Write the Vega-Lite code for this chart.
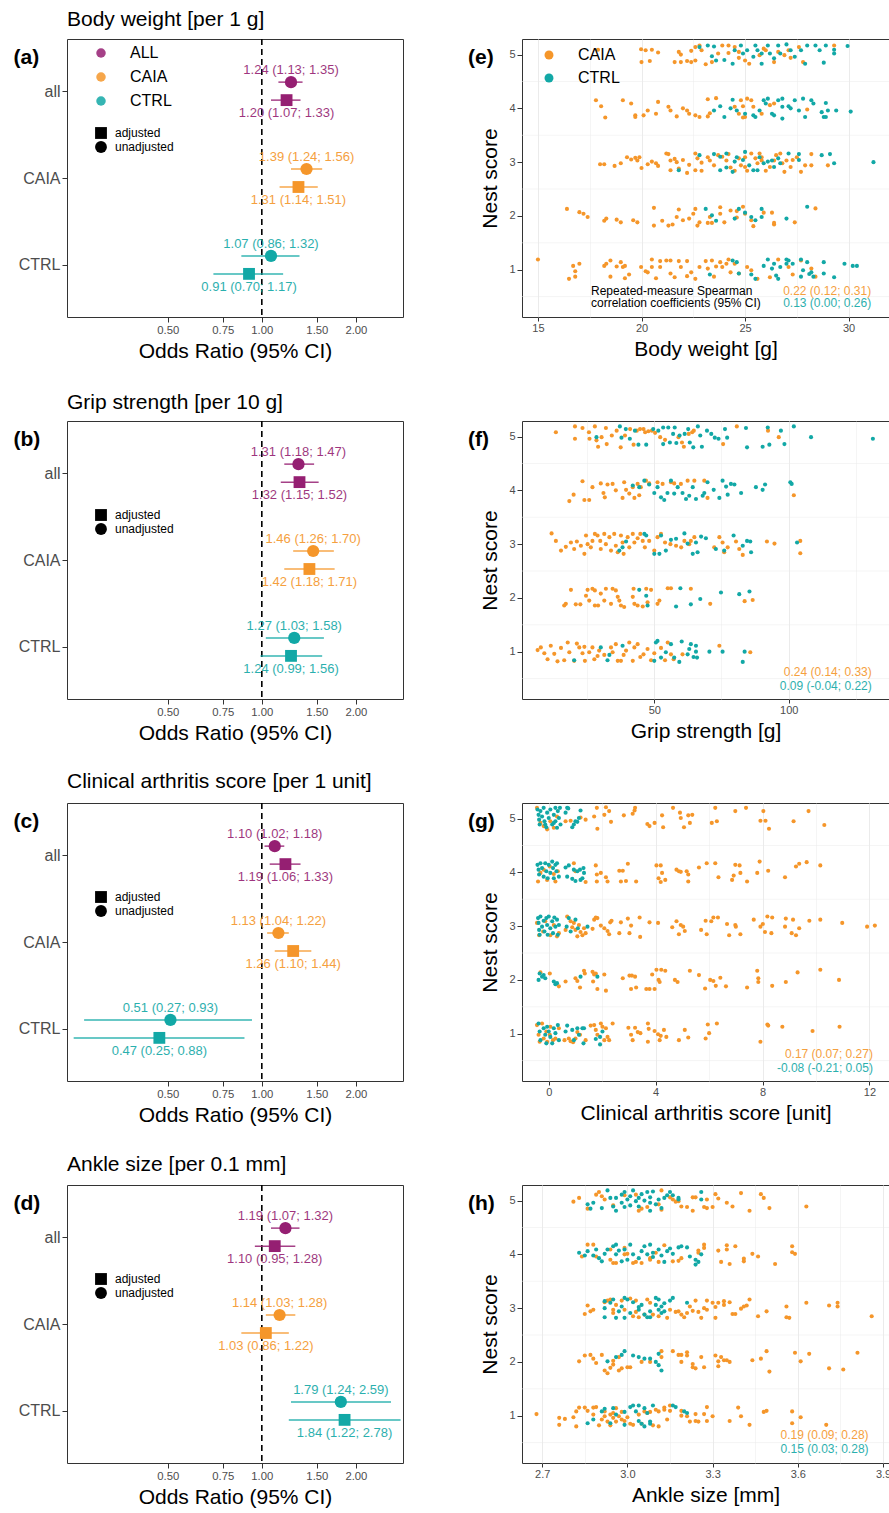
{
"$schema":"https://vega.github.io/schema/vega-lite/v6.json",
"padding":{"left":12,"top":8,"right":0,"bottom":0},
"config":{"font":"Liberation Sans","view":{"stroke":"#333333","strokeWidth":1},
"axis":{"domain":false,"gridColor":"#EBEBEB","gridWidth":1,"tickColor":"#333333","labelColor":"#4D4D4D","titleColor":"#000000","titleFontWeight":"normal","labelOverlap":false},
"legend":{"labelColor":"#000000"},"title":{"color":"#000000","fontWeight":"normal"}},
"datasets":{
"fa":[{"c":"ALL","t":"unadjusted","or":1.24,"lo":1.13,"hi":1.35,"lab":"1.24 (1.13; 1.35)"},{"c":"ALL","t":"adjusted","or":1.20,"lo":1.07,"hi":1.33,"lab":"1.20 (1.07; 1.33)"},{"c":"CAIA","t":"unadjusted","or":1.39,"lo":1.24,"hi":1.56,"lab":"1.39 (1.24; 1.56)"},{"c":"CAIA","t":"adjusted","or":1.31,"lo":1.14,"hi":1.51,"lab":"1.31 (1.14; 1.51)"},{"c":"CTRL","t":"unadjusted","or":1.07,"lo":0.86,"hi":1.32,"lab":"1.07 (0.86; 1.32)"},{"c":"CTRL","t":"adjusted","or":0.91,"lo":0.70,"hi":1.17,"lab":"0.91 (0.70; 1.17)"}],
"fb":[{"c":"ALL","t":"unadjusted","or":1.31,"lo":1.18,"hi":1.47,"lab":"1.31 (1.18; 1.47)"},{"c":"ALL","t":"adjusted","or":1.32,"lo":1.15,"hi":1.52,"lab":"1.32 (1.15; 1.52)"},{"c":"CAIA","t":"unadjusted","or":1.46,"lo":1.26,"hi":1.70,"lab":"1.46 (1.26; 1.70)"},{"c":"CAIA","t":"adjusted","or":1.42,"lo":1.18,"hi":1.71,"lab":"1.42 (1.18; 1.71)"},{"c":"CTRL","t":"unadjusted","or":1.27,"lo":1.03,"hi":1.58,"lab":"1.27 (1.03; 1.58)"},{"c":"CTRL","t":"adjusted","or":1.24,"lo":0.99,"hi":1.56,"lab":"1.24 (0.99; 1.56)"}],
"fc":[{"c":"ALL","t":"unadjusted","or":1.10,"lo":1.02,"hi":1.18,"lab":"1.10 (1.02; 1.18)"},{"c":"ALL","t":"adjusted","or":1.19,"lo":1.06,"hi":1.33,"lab":"1.19 (1.06; 1.33)"},{"c":"CAIA","t":"unadjusted","or":1.13,"lo":1.04,"hi":1.22,"lab":"1.13 (1.04; 1.22)"},{"c":"CAIA","t":"adjusted","or":1.26,"lo":1.10,"hi":1.44,"lab":"1.26 (1.10; 1.44)"},{"c":"CTRL","t":"unadjusted","or":0.51,"lo":0.27,"hi":0.93,"lab":"0.51 (0.27; 0.93)"},{"c":"CTRL","t":"adjusted","or":0.47,"lo":0.25,"hi":0.88,"lab":"0.47 (0.25; 0.88)"}],
"fd":[{"c":"ALL","t":"unadjusted","or":1.19,"lo":1.07,"hi":1.32,"lab":"1.19 (1.07; 1.32)"},{"c":"ALL","t":"adjusted","or":1.10,"lo":0.95,"hi":1.28,"lab":"1.10 (0.95; 1.28)"},{"c":"CAIA","t":"unadjusted","or":1.14,"lo":1.03,"hi":1.28,"lab":"1.14 (1.03; 1.28)"},{"c":"CAIA","t":"adjusted","or":1.03,"lo":0.86,"hi":1.22,"lab":"1.03 (0.86; 1.22)"},{"c":"CTRL","t":"unadjusted","or":1.79,"lo":1.24,"hi":2.59,"lab":"1.79 (1.24; 2.59)"},{"c":"CTRL","t":"adjusted","or":1.84,"lo":1.22,"hi":2.78,"lab":"1.84 (1.22; 2.78)"}],
"eC":[{"x":17.9,"y":5.09},{"x":19.98,"y":5.1},{"x":20.2,"y":5.08},{"x":20.5,"y":5.09},{"x":20.8,"y":5.04},{"x":20.0,"y":4.86},{"x":20.4,"y":4.88},{"x":21.8,"y":5.05},{"x":21.9,"y":5.0},{"x":22.4,"y":5.07},{"x":22.6,"y":5.14},{"x":22.8,"y":5.17},{"x":22.9,"y":5.08},{"x":21.6,"y":4.86},{"x":21.9,"y":4.86},{"x":22.2,"y":4.88},{"x":22.4,"y":4.86},{"x":22.6,"y":4.89},{"x":23.1,"y":4.82},{"x":23.4,"y":4.86},{"x":23.7,"y":5.02},{"x":23.9,"y":5.17},{"x":24.2,"y":5.17},{"x":24.2,"y":5.03},{"x":24.5,"y":5.14},{"x":24.7,"y":5.05},{"x":24.7,"y":4.94},{"x":25.0,"y":4.89},{"x":25.2,"y":4.83},{"x":25.7,"y":4.99},{"x":25.9,"y":5.11},{"x":26.0,"y":5.08},{"x":26.4,"y":4.86},{"x":26.6,"y":5.05},{"x":26.9,"y":4.99},{"x":27.1,"y":5.08},{"x":27.2,"y":4.94},{"x":27.6,"y":5.14},{"x":27.8,"y":4.86},{"x":29.3,"y":5.17},
{"x":17.8,"y":4.15},{"x":18.05,"y":4.04},{"x":18.25,"y":3.83},{"x":19.1,"y":4.15},{"x":19.5,"y":4.09},{"x":19.7,"y":3.87},{"x":19.7,"y":3.84},{"x":20.1,"y":3.87},{"x":20.3,"y":3.96},{"x":20.7,"y":3.9},{"x":20.8,"y":4.12},{"x":21.3,"y":4.03},{"x":21.4,"y":3.96},{"x":21.7,"y":3.85},{"x":22.0,"y":4.0},{"x":22.2,"y":3.96},{"x":22.3,"y":3.9},{"x":22.6,"y":3.87},{"x":22.8,"y":3.84},{"x":23.2,"y":3.85},{"x":23.2,"y":4.17},{"x":23.6,"y":4.19},{"x":23.3,"y":3.91},{"x":24.5,"y":4.03},{"x":24.7,"y":3.9},{"x":24.8,"y":4.15},{"x":24.9,"y":3.83},{"x":25.0,"y":3.84},{"x":25.1,"y":4.18},{"x":25.3,"y":4.15},{"x":25.4,"y":4.03},{"x":24.9,"y":4.04},{"x":25.8,"y":3.9},{"x":26.4,"y":4.09},{"x":28.0,"y":3.98},{"x":26.2,"y":4.06},
{"x":18.0,"y":2.96},{"x":18.2,"y":2.96},{"x":18.7,"y":2.93},{"x":19.0,"y":2.98},{"x":19.3,"y":3.09},{"x":19.5,"y":3.05},{"x":19.7,"y":3.08},{"x":19.9,"y":3.09},{"x":19.8,"y":3.03},{"x":20.0,"y":2.89},{"x":20.3,"y":2.96},{"x":20.5,"y":3.01},{"x":20.7,"y":2.98},{"x":20.8,"y":2.93},{"x":21.2,"y":3.16},{"x":21.3,"y":3.15},{"x":21.4,"y":3.03},{"x":21.6,"y":3.06},{"x":21.7,"y":3.0},{"x":21.8,"y":2.88},{"x":21.4,"y":2.85},{"x":22.0,"y":3.04},{"x":22.2,"y":2.8},{"x":22.3,"y":2.95},{"x":22.6,"y":3.16},{"x":22.7,"y":3.07},{"x":22.9,"y":2.99},{"x":22.6,"y":2.85},{"x":22.9,"y":2.84},{"x":23.2,"y":3.09},{"x":23.3,"y":3.03},{"x":23.5,"y":2.94},{"x":23.7,"y":3.13},{"x":23.9,"y":3.1},{"x":24.1,"y":3.03},{"x":24.2,"y":3.15},{"x":24.3,"y":2.9},{"x":24.5,"y":2.84},{"x":24.7,"y":3.07},{"x":24.8,"y":2.94},{"x":25.0,"y":2.91},{"x":25.0,"y":3.09},{"x":25.1,"y":2.84},{"x":25.3,"y":3.16},{"x":25.5,"y":3.07},{"x":25.6,"y":2.98},{"x":25.7,"y":3.16},{"x":25.8,"y":3.09},{"x":25.8,"y":3.03},{"x":26.0,"y":2.84},{"x":26.2,"y":2.91},{"x":26.4,"y":3.03},{"x":26.5,"y":3.13},{"x":26.7,"y":3.16},{"x":26.8,"y":2.98},{"x":26.9,"y":2.82},{"x":27.0,"y":3.03},{"x":27.2,"y":2.91},{"x":27.3,"y":3.04},{"x":27.5,"y":3.09},{"x":27.7,"y":2.82},{"x":27.9,"y":2.94},{"x":28.2,"y":2.94},{"x":28.2,"y":3.15},{"x":29.0,"y":2.94},
{"x":16.4,"y":2.13},{"x":17.0,"y":2.07},{"x":17.2,"y":2.04},{"x":17.4,"y":1.98},{"x":18.2,"y":1.91},{"x":18.3,"y":1.95},{"x":18.8,"y":1.93},{"x":19.0,"y":1.88},{"x":19.6,"y":1.92},{"x":19.8,"y":1.88},{"x":20.6,"y":2.15},{"x":20.6,"y":1.82},{"x":21.0,"y":1.91},{"x":21.3,"y":1.82},{"x":21.5,"y":1.84},{"x":21.7,"y":1.98},{"x":21.8,"y":2.12},{"x":22.0,"y":1.92},{"x":22.3,"y":1.95},{"x":22.5,"y":2.04},{"x":22.6,"y":2.13},{"x":22.7,"y":1.82},{"x":22.8,"y":1.88},{"x":23.2,"y":1.87},{"x":23.3,"y":1.98},{"x":23.4,"y":1.87},{"x":23.8,"y":2.16},{"x":23.8,"y":2.04},{"x":24.0,"y":1.88},{"x":24.3,"y":2.1},{"x":24.6,"y":1.97},{"x":24.6,"y":2.09},{"x":24.9,"y":2.17},{"x":25.0,"y":2.04},{"x":25.3,"y":1.92},{"x":25.4,"y":1.81},{"x":25.9,"y":2.06},{"x":26.3,"y":2.06},{"x":26.4,"y":1.84},{"x":26.4,"y":1.87},{"x":27.4,"y":1.88},{"x":28.4,"y":2.14},
{"x":15.0,"y":1.19},{"x":16.5,"y":0.83},{"x":16.7,"y":1.07},{"x":16.8,"y":0.87},{"x":16.8,"y":0.97},{"x":17.0,"y":1.11},{"x":18.2,"y":1.07},{"x":18.3,"y":1.11},{"x":18.5,"y":1.17},{"x":18.5,"y":0.87},{"x":18.8,"y":1.06},{"x":19.0,"y":1.14},{"x":19.1,"y":1.05},{"x":19.2,"y":0.84},{"x":19.4,"y":0.91},{"x":19.2,"y":1.07},{"x":19.98,"y":1.05},{"x":20.2,"y":0.97},{"x":20.3,"y":0.95},{"x":20.5,"y":1.19},{"x":20.5,"y":1.05},{"x":20.7,"y":0.84},{"x":20.9,"y":1.16},{"x":20.9,"y":1.05},{"x":21.2,"y":1.17},{"x":21.4,"y":0.93},{"x":21.4,"y":1.17},{"x":21.6,"y":0.86},{"x":21.8,"y":1.16},{"x":21.9,"y":1.05},{"x":22.2,"y":1.16},{"x":22.2,"y":0.88},{"x":22.4,"y":0.95},{"x":22.6,"y":0.83},{"x":22.8,"y":1.05},{"x":23.1,"y":1.16},{"x":23.2,"y":1.02},{"x":23.4,"y":1.17},{"x":23.5,"y":0.87},{"x":23.6,"y":1.06},{"x":23.8,"y":1.14},{"x":23.9,"y":1.05},{"x":24.1,"y":1.11},{"x":24.2,"y":1.19},{"x":24.3,"y":0.95},{"x":24.5,"y":1.11},{"x":24.7,"y":0.93},{"x":25.1,"y":1.05},{"x":25.3,"y":0.99},{"x":25.6,"y":0.83},{"x":26.2,"y":0.86},{"x":26.6,"y":1.19},{"x":27.1,"y":1.05},{"x":27.3,"y":0.91},{"x":27.7,"y":1.17},{"x":28.2,"y":1.02},{"x":28.4,"y":0.87}],
"eT":[{"x":22.8,"y":5.14},{"x":23.2,"y":5.17},{"x":23.5,"y":5.15},{"x":23.4,"y":4.97},{"x":23.6,"y":4.89},{"x":24.0,"y":4.9},{"x":24.4,"y":4.83},{"x":24.5,"y":5.08},{"x":24.8,"y":5.17},{"x":24.9,"y":5.02},{"x":25.1,"y":5.08},{"x":25.4,"y":4.96},{"x":25.5,"y":5.17},{"x":25.6,"y":5.08},{"x":25.8,"y":5.02},{"x":25.8,"y":4.83},{"x":26.1,"y":5.17},{"x":26.2,"y":5.02},{"x":26.4,"y":4.93},{"x":26.6,"y":5.17},{"x":26.7,"y":5.02},{"x":27.0,"y":5.19},{"x":27.2,"y":5.08},{"x":27.4,"y":4.96},{"x":27.7,"y":5.08},{"x":27.9,"y":4.83},{"x":28.0,"y":5.17},{"x":28.4,"y":5.17},{"x":28.6,"y":5.08},{"x":28.9,"y":5.17},{"x":28.8,"y":4.85},{"x":29.3,"y":5.09},{"x":29.3,"y":5.02},{"x":29.95,"y":5.16},
{"x":23.5,"y":3.96},{"x":23.8,"y":4.04},{"x":24.0,"y":3.84},{"x":24.4,"y":4.16},{"x":24.3,"y":4.0},{"x":24.6,"y":3.96},{"x":25.0,"y":3.9},{"x":25.4,"y":3.87},{"x":25.5,"y":3.84},{"x":25.7,"y":3.96},{"x":25.9,"y":4.15},{"x":26.1,"y":4.18},{"x":26.0,"y":4.09},{"x":26.3,"y":3.9},{"x":26.4,"y":3.87},{"x":26.6,"y":4.15},{"x":26.8,"y":4.18},{"x":26.8,"y":4.03},{"x":26.8,"y":3.81},{"x":27.1,"y":4.04},{"x":27.2,"y":4.0},{"x":27.4,"y":4.15},{"x":27.6,"y":3.96},{"x":27.8,"y":4.18},{"x":27.9,"y":3.84},{"x":28.2,"y":4.15},{"x":28.3,"y":4.09},{"x":28.7,"y":3.93},{"x":28.8,"y":3.84},{"x":28.9,"y":3.84},{"x":29.0,"y":3.96},{"x":28.9,"y":4.1},{"x":29.4,"y":3.96},{"x":30.1,"y":3.94},
{"x":21.8,"y":2.85},{"x":22.8,"y":3.13},{"x":23.5,"y":3.15},{"x":23.8,"y":2.85},{"x":23.8,"y":3.1},{"x":24.1,"y":3.16},{"x":24.1,"y":2.9},{"x":24.4,"y":2.82},{"x":24.5,"y":3.01},{"x":24.6,"y":3.09},{"x":24.9,"y":3.04},{"x":25.0,"y":3.19},{"x":25.2,"y":2.94},{"x":25.4,"y":2.85},{"x":25.6,"y":2.85},{"x":25.7,"y":3.09},{"x":25.9,"y":2.98},{"x":26.1,"y":3.01},{"x":26.3,"y":3.03},{"x":26.4,"y":2.91},{"x":26.6,"y":3.07},{"x":26.7,"y":2.98},{"x":27.1,"y":3.16},{"x":27.6,"y":3.15},{"x":27.6,"y":3.04},{"x":28.7,"y":3.13},{"x":29.1,"y":3.15},{"x":29.3,"y":2.98},{"x":31.2,"y":3.0},
{"x":23.1,"y":2.13},{"x":23.4,"y":2.01},{"x":23.6,"y":1.91},{"x":24.5,"y":1.95},{"x":24.7,"y":2.13},{"x":25.0,"y":2.06},{"x":25.3,"y":1.98},{"x":25.5,"y":1.92},{"x":25.8,"y":2.13},{"x":25.8,"y":1.98},{"x":27.0,"y":1.95},{"x":28.0,"y":2.17},
{"x":23.3,"y":0.91},{"x":24.4,"y":1.17},{"x":24.6,"y":1.14},{"x":24.7,"y":0.93},{"x":25.3,"y":0.91},{"x":25.5,"y":0.83},{"x":25.9,"y":1.07},{"x":26.1,"y":1.19},{"x":26.3,"y":1.02},{"x":26.4,"y":1.11},{"x":26.5,"y":0.89},{"x":26.6,"y":0.83},{"x":26.7,"y":1.05},{"x":27.0,"y":1.19},{"x":27.0,"y":1.11},{"x":27.1,"y":1.17},{"x":27.3,"y":1.11},{"x":27.7,"y":1.19},{"x":27.8,"y":0.99},{"x":28.0,"y":1.14},{"x":28.1,"y":0.92},{"x":28.2,"y":0.95},{"x":27.7,"y":0.87},{"x":28.3,"y":0.87},{"x":28.8,"y":1.14},{"x":28.8,"y":0.93},{"x":29.3,"y":0.86},{"x":29.8,"y":1.11},{"x":30.2,"y":1.07},{"x":30.4,"y":1.07}],
"gC":[{"x":13.4,"y":5.08},{"x":20.5,"y":5.19},{"x":20.5,"y":4.96},{"x":23.3,"y":5.16},{"x":25.7,"y":5.08},{"x":25.9,"y":4.96},{"x":27.9,"y":5.19},{"x":28.5,"y":4.93},{"x":29.1,"y":4.81},{"x":30.4,"y":4.99},{"x":32.0,"y":5.16},{"x":32.3,"y":4.86},{"x":34.2,"y":5.02},{"x":36.0,"y":5.11},{"x":37.5,"y":4.8},{"x":39.1,"y":5.02},{"x":41.0,"y":5.14},{"x":42.3,"y":4.85},{"x":43.5,"y":5.11},{"x":44.7,"y":5.14},{"x":46.0,"y":5.14},{"x":46.6,"y":5.08},{"x":47.8,"y":5.1},{"x":49.1,"y":5.11},{"x":50.3,"y":5.07},{"x":52.2,"y":4.99},{"x":54.0,"y":4.94},{"x":59.0,"y":4.99},{"x":60.3,"y":4.89},{"x":61.0,"y":4.81},{"x":62.8,"y":5.05},{"x":64.1,"y":5.08},{"x":64.7,"y":5.11},{"x":75.6,"y":4.86},{"x":80.7,"y":5.19},{"x":92.3,"y":5.11},{"x":96.3,"y":4.99},
{"x":18.4,"y":3.8},{"x":20.0,"y":3.92},{"x":23.3,"y":4.17},{"x":24.0,"y":3.82},{"x":25.8,"y":3.82},{"x":27.0,"y":4.06},{"x":30.1,"y":4.13},{"x":31.1,"y":3.95},{"x":31.6,"y":3.87},{"x":32.6,"y":4.11},{"x":34.5,"y":4.12},{"x":35.7,"y":4.0},{"x":38.2,"y":3.86},{"x":38.8,"y":4.15},{"x":39.5,"y":4.01},{"x":40.7,"y":3.94},{"x":42.0,"y":4.06},{"x":42.6,"y":3.86},{"x":43.8,"y":4.12},{"x":44.4,"y":3.91},{"x":45.0,"y":4.06},{"x":46.9,"y":4.18},{"x":48.1,"y":4.13},{"x":51.2,"y":4.15},{"x":53.1,"y":4.12},{"x":56.2,"y":4.15},{"x":57.4,"y":4.13},{"x":59.9,"y":4.12},{"x":62.4,"y":4.18},{"x":64.9,"y":4.18},{"x":68.6,"y":4.18},{"x":69.8,"y":3.86},{"x":101.9,"y":3.91},
{"x":11.8,"y":3.2},{"x":13.4,"y":3.06},{"x":15.3,"y":2.88},{"x":17.1,"y":2.95},{"x":19.0,"y":3.03},{"x":20.2,"y":2.91},{"x":21.2,"y":3.05},{"x":22.7,"y":2.97},{"x":24.0,"y":2.82},{"x":24.6,"y":3.16},{"x":25.2,"y":3.0},{"x":26.4,"y":2.94},{"x":27.0,"y":3.06},{"x":27.9,"y":3.19},{"x":28.9,"y":3.16},{"x":29.9,"y":3.06},{"x":30.1,"y":2.91},{"x":31.4,"y":3.19},{"x":32.0,"y":3.0},{"x":33.3,"y":3.13},{"x":33.9,"y":2.88},{"x":35.1,"y":3.19},{"x":35.7,"y":2.97},{"x":36.4,"y":2.85},{"x":37.6,"y":3.16},{"x":38.2,"y":3.03},{"x":38.6,"y":2.82},{"x":40.1,"y":3.13},{"x":40.7,"y":2.94},{"x":42.0,"y":3.19},{"x":42.6,"y":3.03},{"x":43.8,"y":3.11},{"x":44.8,"y":3.19},{"x":45.7,"y":3.06},{"x":46.5,"y":2.94},{"x":48.1,"y":3.06},{"x":50.0,"y":2.88},{"x":51.2,"y":3.13},{"x":52.5,"y":3.19},{"x":54.0,"y":3.03},{"x":56.0,"y":3.0},{"x":58.1,"y":2.97},{"x":60.0,"y":2.94},{"x":61.2,"y":3.06},{"x":63.0,"y":3.0},{"x":63.6,"y":3.06},{"x":64.9,"y":3.13},{"x":72.3,"y":2.94},{"x":74.2,"y":3.13},{"x":75.4,"y":3.03},{"x":76.0,"y":2.85},{"x":77.3,"y":2.94},{"x":80.4,"y":3.05},{"x":81.6,"y":2.91},{"x":82.9,"y":2.8},{"x":91.9,"y":3.05},{"x":94.7,"y":3.01},{"x":104.3,"y":3.06},{"x":104.3,"y":2.83},
{"x":16.5,"y":1.86},{"x":17.1,"y":1.89},{"x":19.0,"y":2.15},{"x":20.8,"y":1.88},{"x":22.5,"y":1.88},{"x":24.6,"y":2.04},{"x":25.2,"y":2.15},{"x":25.8,"y":1.95},{"x":27.0,"y":2.17},{"x":27.9,"y":2.14},{"x":27.9,"y":1.86},{"x":29.1,"y":1.86},{"x":30.1,"y":2.08},{"x":31.4,"y":1.95},{"x":32.0,"y":2.17},{"x":33.9,"y":1.89},{"x":34.5,"y":2.17},{"x":35.7,"y":2.14},{"x":36.4,"y":2.02},{"x":37.0,"y":1.95},{"x":37.6,"y":1.86},{"x":38.8,"y":1.83},{"x":42.0,"y":2.02},{"x":42.3,"y":2.17},{"x":42.6,"y":1.89},{"x":43.8,"y":1.86},{"x":45.7,"y":1.84},{"x":47.0,"y":2.17},{"x":47.5,"y":1.92},{"x":48.8,"y":2.15},{"x":51.2,"y":1.89},{"x":51.9,"y":1.95},{"x":55.0,"y":2.18},{"x":56.2,"y":2.18},{"x":63.6,"y":2.17},{"x":70.8,"y":1.89},{"x":83.6,"y":1.94},{"x":86.6,"y":1.96},
{"x":6.6,"y":1.03},{"x":7.8,"y":1.08},{"x":9.1,"y":0.97},{"x":10.3,"y":0.86},{"x":11.5,"y":1.11},{"x":12.8,"y":0.96},{"x":14.0,"y":0.82},{"x":15.3,"y":1.07},{"x":16.5,"y":0.84},{"x":17.8,"y":1.17},{"x":18.4,"y":0.99},{"x":20.2,"y":0.83},{"x":21.2,"y":1.15},{"x":22.1,"y":1.08},{"x":23.3,"y":0.97},{"x":24.0,"y":1.09},{"x":24.2,"y":0.83},{"x":25.8,"y":0.99},{"x":27.0,"y":1.08},{"x":27.7,"y":0.86},{"x":28.9,"y":0.92},{"x":29.5,"y":1.02},{"x":31.4,"y":0.94},{"x":33.9,"y":1.08},{"x":34.5,"y":0.99},{"x":35.7,"y":1.14},{"x":36.4,"y":0.83},{"x":37.6,"y":0.83},{"x":38.6,"y":0.94},{"x":39.5,"y":1.02},{"x":40.7,"y":1.17},{"x":42.0,"y":0.83},{"x":42.6,"y":1.08},{"x":43.8,"y":1.14},{"x":44.8,"y":0.9},{"x":46.0,"y":0.95},{"x":47.5,"y":1.05},{"x":48.8,"y":0.84},{"x":50.0,"y":0.97},{"x":52.5,"y":1.07},{"x":54.0,"y":0.84},{"x":55.0,"y":1.17},{"x":56.2,"y":0.95},{"x":57.2,"y":0.86},{"x":60.5,"y":0.95},{"x":74.2,"y":1.11},{"x":85.7,"y":0.99}],
"gT":[{"x":28.5,"y":4.99},{"x":37.2,"y":5.19},{"x":37.8,"y":4.98},{"x":39.4,"y":5.14},{"x":40.9,"y":4.96},{"x":42.8,"y":5.11},{"x":44.1,"y":4.85},{"x":47.0,"y":4.85},{"x":49.6,"y":5.14},{"x":51.5,"y":5.11},{"x":53.3,"y":5.17},{"x":55.2,"y":5.17},{"x":53.3,"y":4.86},{"x":55.8,"y":4.89},{"x":57.0,"y":5.05},{"x":57.6,"y":5.17},{"x":58.2,"y":4.88},{"x":59.4,"y":5.02},{"x":61.3,"y":5.05},{"x":62.6,"y":5.14},{"x":63.2,"y":4.89},{"x":64.5,"y":4.8},{"x":66.2,"y":5.19},{"x":67.1,"y":5.02},{"x":67.7,"y":4.81},{"x":69.6,"y":5.11},{"x":71.2,"y":5.05},{"x":72.5,"y":4.98},{"x":73.9,"y":4.96},{"x":77.1,"y":4.98},{"x":76.3,"y":5.14},{"x":84.1,"y":5.16},{"x":84.5,"y":4.8},{"x":90.3,"y":4.81},{"x":92.8,"y":4.85},{"x":92.2,"y":5.17},{"x":97.1,"y":5.11},{"x":98.4,"y":4.86},{"x":101.9,"y":5.19},{"x":108.3,"y":4.99},{"x":131.3,"y":4.96},
{"x":42.0,"y":4.09},{"x":44.4,"y":4.06},{"x":46.3,"y":4.18},{"x":48.1,"y":4.11},{"x":50.0,"y":3.95},{"x":51.2,"y":4.06},{"x":52.5,"y":3.87},{"x":53.7,"y":3.82},{"x":54.9,"y":3.95},{"x":56.2,"y":4.18},{"x":57.4,"y":3.94},{"x":58.7,"y":4.06},{"x":60.5,"y":3.95},{"x":61.8,"y":3.84},{"x":63.0,"y":3.9},{"x":64.3,"y":4.06},{"x":65.5,"y":3.84},{"x":68.0,"y":3.9},{"x":68.6,"y":3.95},{"x":69.8,"y":4.15},{"x":72.1,"y":4.01},{"x":74.2,"y":3.86},{"x":75.4,"y":4.18},{"x":76.7,"y":4.07},{"x":77.3,"y":3.92},{"x":78.5,"y":4.12},{"x":79.8,"y":4.11},{"x":82.3,"y":3.95},{"x":87.8,"y":4.06},{"x":90.3,"y":4.01},{"x":91.2,"y":4.11},{"x":100.6,"y":4.15},{"x":101.1,"y":4.12},
{"x":37.0,"y":2.88},{"x":38.2,"y":2.94},{"x":39.5,"y":3.05},{"x":46.3,"y":3.19},{"x":47.0,"y":3.16},{"x":50.0,"y":2.82},{"x":51.9,"y":2.82},{"x":52.5,"y":3.16},{"x":54.3,"y":2.88},{"x":56.2,"y":3.08},{"x":58.1,"y":3.1},{"x":61.2,"y":3.2},{"x":62.4,"y":3.01},{"x":64.3,"y":2.82},{"x":65.5,"y":3.03},{"x":66.1,"y":2.85},{"x":67.4,"y":3.14},{"x":69.2,"y":3.11},{"x":72.9,"y":2.91},{"x":76.0,"y":2.88},{"x":79.5,"y":3.16},{"x":82.9,"y":2.97},{"x":84.5,"y":3.06},{"x":85.7,"y":3.05},{"x":86.0,"y":2.85},{"x":103.1,"y":3.03},
{"x":44.4,"y":2.15},{"x":47.0,"y":2.04},{"x":47.5,"y":1.86},{"x":59.7,"y":2.18},{"x":58.1,"y":1.84},{"x":63.6,"y":1.88},{"x":67.1,"y":1.98},{"x":74.8,"y":2.1},{"x":81.6,"y":2.07},{"x":85.4,"y":2.12},
{"x":20.2,"y":0.84},{"x":30.1,"y":1.08},{"x":32.6,"y":0.84},{"x":33.3,"y":0.94},{"x":38.2,"y":1.11},{"x":50.6,"y":1.17},{"x":51.2,"y":1.2},{"x":50.0,"y":0.83},{"x":52.5,"y":0.89},{"x":54.3,"y":0.99},{"x":56.2,"y":1.14},{"x":57.4,"y":0.89},{"x":59.3,"y":0.81},{"x":60.2,"y":1.19},{"x":62.4,"y":0.95},{"x":63.0,"y":1.05},{"x":63.6,"y":1.14},{"x":64.6,"y":0.9},{"x":65.5,"y":1.11},{"x":65.5,"y":1.0},{"x":65.9,"y":0.89},{"x":70.5,"y":1.0},{"x":75.4,"y":1.0},{"x":82.9,"y":0.81},{"x":83.6,"y":1.0}],
"cC":[{"x":-0.44,"y":5.2},{"x":-0.31,"y":4.92},{"x":-0.19,"y":4.86},{"x":-0.06,"y":4.8},{"x":0.06,"y":4.95},{"x":0.19,"y":4.83},{"x":0.31,"y":5.04},{"x":0.63,"y":4.95},{"x":0.82,"y":4.96},{"x":1.19,"y":5.02},{"x":1.38,"y":4.98},{"x":1.7,"y":5.04},{"x":1.8,"y":5.2},{"x":1.82,"y":4.81},{"x":2.08,"y":5.07},{"x":2.14,"y":5.21},{"x":2.26,"y":5.14},{"x":2.33,"y":4.94},{"x":2.81,"y":5.06},{"x":3.14,"y":5.09},{"x":3.23,"y":5.2},{"x":3.21,"y":5.15},{"x":3.69,"y":4.9},{"x":3.77,"y":4.86},{"x":3.96,"y":4.92},{"x":4.24,"y":5.06},{"x":4.28,"y":4.84},{"x":4.65,"y":5.2},{"x":4.91,"y":5.11},{"x":4.94,"y":5.01},{"x":5.06,"y":4.84},{"x":5.22,"y":5.06},{"x":5.28,"y":4.92},{"x":5.37,"y":5.07},{"x":6.23,"y":5.2},{"x":6.1,"y":4.92},{"x":6.29,"y":4.95},{"x":6.98,"y":5.14},{"x":7.38,"y":5.2},{"x":8.03,"y":5.14},{"x":7.92,"y":4.96},{"x":8.11,"y":4.96},{"x":8.24,"y":4.81},{"x":9.16,"y":4.95},{"x":9.72,"y":5.14},{"x":10.31,"y":4.88},
{"x":-0.4,"y":3.83},{"x":-0.31,"y":3.99},{"x":-0.19,"y":4.05},{"x":-0.06,"y":3.86},{"x":0.04,"y":4.11},{"x":0.19,"y":3.97},{"x":0.25,"y":3.83},{"x":0.34,"y":4.02},{"x":0.94,"y":4.17},{"x":1.0,"y":4.02},{"x":1.38,"y":3.82},{"x":1.76,"y":4.13},{"x":1.8,"y":3.96},{"x":1.8,"y":3.83},{"x":1.95,"y":3.99},{"x":2.14,"y":3.91},{"x":2.2,"y":3.83},{"x":2.64,"y":4.03},{"x":2.77,"y":4.03},{"x":2.7,"y":3.83},{"x":2.89,"y":3.84},{"x":2.96,"y":4.16},{"x":3.27,"y":3.83},{"x":4.03,"y":4.13},{"x":4.19,"y":4.13},{"x":4.24,"y":3.99},{"x":4.11,"y":3.89},{"x":4.19,"y":3.82},{"x":4.36,"y":3.86},{"x":4.78,"y":4.05},{"x":4.87,"y":4.02},{"x":4.94,"y":4.01},{"x":5.16,"y":4.02},{"x":5.22,"y":3.96},{"x":5.22,"y":3.83},{"x":5.62,"y":4.09},{"x":5.91,"y":4.17},{"x":6.23,"y":4.17},{"x":6.35,"y":3.91},{"x":6.86,"y":3.86},{"x":6.92,"y":3.94},{"x":6.98,"y":4.14},{"x":7.17,"y":3.99},{"x":7.14,"y":4.13},{"x":7.42,"y":3.83},{"x":7.8,"y":3.99},{"x":7.89,"y":4.2},{"x":8.21,"y":4.03},{"x":8.84,"y":3.91},{"x":9.25,"y":4.11},{"x":9.37,"y":4.16},{"x":9.65,"y":4.19},{"x":10.16,"y":4.13},
{"x":-0.44,"y":3.06},{"x":-0.36,"y":2.83},{"x":-0.21,"y":2.9},{"x":-0.13,"y":3.09},{"x":0.06,"y":2.83},{"x":0.19,"y":3.02},{"x":0.31,"y":2.81},{"x":0.38,"y":2.87},{"x":0.63,"y":2.93},{"x":0.69,"y":3.18},{"x":0.82,"y":3.09},{"x":0.88,"y":2.98},{"x":0.94,"y":3.06},{"x":1.0,"y":2.93},{"x":1.07,"y":2.81},{"x":1.13,"y":3.02},{"x":1.19,"y":2.89},{"x":1.26,"y":2.83},{"x":1.32,"y":2.96},{"x":1.38,"y":2.87},{"x":1.64,"y":2.95},{"x":1.7,"y":3.12},{"x":1.76,"y":3.16},{"x":1.82,"y":3.15},{"x":1.95,"y":3.01},{"x":2.08,"y":2.96},{"x":2.2,"y":2.91},{"x":2.26,"y":2.85},{"x":2.3,"y":3.07},{"x":2.35,"y":3.1},{"x":2.64,"y":2.87},{"x":2.7,"y":3.07},{"x":2.96,"y":3.14},{"x":3.02,"y":2.87},{"x":3.08,"y":3.01},{"x":3.4,"y":3.16},{"x":3.42,"y":2.8},{"x":3.77,"y":3.07},{"x":4.09,"y":3.06},{"x":4.62,"y":2.98},{"x":4.78,"y":3.09},{"x":4.87,"y":2.85},{"x":4.94,"y":3.02},{"x":5.03,"y":2.99},{"x":5.09,"y":2.91},{"x":5.7,"y":2.93},{"x":5.87,"y":3.1},{"x":5.91,"y":2.85},{"x":6.08,"y":3.09},{"x":6.16,"y":3.16},{"x":6.33,"y":3.16},{"x":6.67,"y":3.04},{"x":6.75,"y":2.83},{"x":6.98,"y":3.02},{"x":7.0,"y":2.99},{"x":7.17,"y":2.85},{"x":7.67,"y":3.12},{"x":7.92,"y":2.99},{"x":8.01,"y":3.04},{"x":8.09,"y":2.89},{"x":8.18,"y":3.18},{"x":8.36,"y":3.16},{"x":8.33,"y":2.87},{"x":8.84,"y":2.99},{"x":8.87,"y":3.14},{"x":9.09,"y":2.87},{"x":9.14,"y":3.12},{"x":9.25,"y":2.83},{"x":9.37,"y":2.96},{"x":9.75,"y":3.1},{"x":10.16,"y":3.12},{"x":10.98,"y":3.06},{"x":11.91,"y":2.99},{"x":12.2,"y":3.01},
{"x":-0.31,"y":2.14},{"x":0.04,"y":2.12},{"x":0.38,"y":1.88},{"x":0.63,"y":1.97},{"x":1.0,"y":2.03},{"x":1.07,"y":1.98},{"x":1.17,"y":1.86},{"x":1.32,"y":2.17},{"x":1.35,"y":2.12},{"x":1.64,"y":2.15},{"x":1.7,"y":2.1},{"x":1.76,"y":2.12},{"x":1.82,"y":1.83},{"x":1.66,"y":1.97},{"x":2.08,"y":2.1},{"x":2.14,"y":1.8},{"x":2.77,"y":2.03},{"x":3.02,"y":2.08},{"x":3.11,"y":2.08},{"x":3.23,"y":2.06},{"x":3.08,"y":1.83},{"x":3.27,"y":1.86},{"x":3.65,"y":1.83},{"x":3.77,"y":1.83},{"x":3.96,"y":1.83},{"x":3.87,"y":2.1},{"x":4.03,"y":2.19},{"x":4.21,"y":2.19},{"x":4.36,"y":2.17},{"x":4.11,"y":2.0},{"x":4.15,"y":1.96},{"x":4.72,"y":2.0},{"x":4.82,"y":1.96},{"x":5.28,"y":2.17},{"x":5.62,"y":2.09},{"x":5.85,"y":1.84},{"x":6.04,"y":2.0},{"x":6.16,"y":1.98},{"x":6.25,"y":1.89},{"x":6.42,"y":2.04},{"x":6.63,"y":1.88},{"x":7.42,"y":1.86},{"x":7.8,"y":2.17},{"x":7.84,"y":2.03},{"x":7.84,"y":1.96},{"x":8.36,"y":1.89},{"x":8.87,"y":1.96},{"x":9.31,"y":2.14},{"x":10.16,"y":2.19},{"x":10.86,"y":2.0},
{"x":-0.44,"y":1.16},{"x":-0.38,"y":0.98},{"x":-0.34,"y":0.85},{"x":-0.25,"y":1.19},{"x":-0.19,"y":0.91},{"x":-0.09,"y":1.04},{"x":-0.06,"y":0.85},{"x":0.04,"y":0.98},{"x":0.06,"y":1.13},{"x":0.16,"y":0.88},{"x":0.25,"y":0.91},{"x":0.38,"y":1.1},{"x":0.59,"y":0.88},{"x":0.75,"y":0.91},{"x":0.82,"y":0.86},{"x":0.91,"y":0.84},{"x":1.0,"y":0.91},{"x":1.07,"y":1.03},{"x":1.17,"y":0.98},{"x":1.38,"y":0.88},{"x":1.57,"y":1.15},{"x":1.7,"y":1.16},{"x":1.76,"y":1.07},{"x":1.82,"y":0.98},{"x":1.95,"y":1.19},{"x":2.01,"y":1.13},{"x":2.08,"y":0.88},{"x":2.14,"y":1.1},{"x":2.2,"y":0.94},{"x":2.26,"y":0.88},{"x":2.39,"y":1.19},{"x":2.98,"y":1.11},{"x":3.08,"y":0.98},{"x":3.14,"y":0.88},{"x":3.23,"y":1.11},{"x":3.33,"y":1.03},{"x":3.43,"y":1.01},{"x":3.71,"y":1.19},{"x":3.74,"y":1.09},{"x":3.71,"y":0.85},{"x":3.96,"y":1.05},{"x":4.09,"y":0.99},{"x":4.15,"y":0.88},{"x":4.19,"y":0.96},{"x":4.31,"y":1.07},{"x":4.4,"y":0.94},{"x":4.87,"y":0.88},{"x":5.09,"y":1.07},{"x":5.22,"y":0.93},{"x":5.87,"y":0.91},{"x":5.95,"y":1.17},{"x":6.0,"y":1.01},{"x":6.29,"y":1.19},{"x":8.18,"y":1.17},{"x":8.21,"y":1.15},{"x":7.92,"y":0.85},{"x":8.74,"y":1.13},{"x":9.87,"y":1.05},{"x":10.88,"y":1.13}],
"cT":[{"x":-0.42,"y":5.17},{"x":-0.38,"y":5.07},{"x":-0.36,"y":4.98},{"x":-0.34,"y":4.89},{"x":-0.31,"y":5.14},{"x":-0.25,"y":5.04},{"x":-0.19,"y":5.2},{"x":-0.16,"y":4.95},{"x":-0.09,"y":4.84},{"x":-0.06,"y":5.11},{"x":0.0,"y":5.01},{"x":0.06,"y":5.17},{"x":0.13,"y":4.89},{"x":0.19,"y":5.07},{"x":0.25,"y":5.2},{"x":0.25,"y":4.95},{"x":0.31,"y":4.83},{"x":0.34,"y":5.14},{"x":0.38,"y":5.01},{"x":0.44,"y":4.89},{"x":0.42,"y":5.2},{"x":0.63,"y":5.11},{"x":0.69,"y":5.2},{"x":0.73,"y":5.19},{"x":0.88,"y":4.84},{"x":0.94,"y":4.89},{"x":1.0,"y":4.95},{"x":1.07,"y":4.94},{"x":1.19,"y":5.15},{"x":1.13,"y":5.01},{"x":0.19,"y":4.92},{"x":-0.13,"y":4.89},
{"x":-0.42,"y":4.14},{"x":-0.38,"y":4.05},{"x":-0.36,"y":3.96},{"x":-0.31,"y":4.17},{"x":-0.25,"y":4.08},{"x":-0.19,"y":3.92},{"x":-0.13,"y":4.17},{"x":-0.09,"y":4.02},{"x":-0.04,"y":3.89},{"x":0.0,"y":4.14},{"x":0.06,"y":3.99},{"x":0.13,"y":4.2},{"x":0.16,"y":4.08},{"x":0.19,"y":3.89},{"x":0.25,"y":4.14},{"x":0.29,"y":4.02},{"x":0.31,"y":4.17},{"x":0.38,"y":3.92},{"x":0.63,"y":4.09},{"x":0.69,"y":3.92},{"x":0.75,"y":4.13},{"x":0.88,"y":3.88},{"x":0.94,"y":4.05},{"x":1.0,"y":3.84},{"x":1.07,"y":4.02},{"x":1.17,"y":4.05},{"x":1.19,"y":3.86},{"x":1.3,"y":4.08},{"x":1.32,"y":3.99},{"x":1.26,"y":3.89},
{"x":-0.4,"y":3.15},{"x":-0.38,"y":3.06},{"x":-0.36,"y":2.93},{"x":-0.34,"y":2.84},{"x":-0.31,"y":3.18},{"x":-0.25,"y":2.99},{"x":-0.19,"y":3.1},{"x":-0.16,"y":2.9},{"x":-0.09,"y":3.15},{"x":-0.06,"y":3.02},{"x":-0.04,"y":2.84},{"x":0.0,"y":3.18},{"x":0.06,"y":2.96},{"x":0.13,"y":3.09},{"x":0.16,"y":2.87},{"x":0.21,"y":3.16},{"x":0.25,"y":2.99},{"x":0.31,"y":3.12},{"x":0.34,"y":2.84},{"x":0.38,"y":3.02},{"x":0.67,"y":2.99},{"x":0.75,"y":3.15},{"x":0.82,"y":2.9},{"x":1.0,"y":3.12},{"x":1.09,"y":2.96},{"x":1.45,"y":2.99},
{"x":-0.38,"y":2.0},{"x":-0.34,"y":2.12},{"x":-0.25,"y":2.06},{"x":-0.19,"y":2.09},{"x":-0.13,"y":2.03},{"x":0.19,"y":1.97},{"x":0.25,"y":1.92},{"x":0.31,"y":1.94},{"x":1.19,"y":2.06},{"x":1.82,"y":2.06},
{"x":-0.38,"y":1.19},{"x":-0.34,"y":1.04},{"x":-0.31,"y":0.88},{"x":-0.19,"y":1.1},{"x":-0.13,"y":0.98},{"x":-0.09,"y":0.82},{"x":-0.06,"y":1.13},{"x":0.0,"y":1.04},{"x":0.06,"y":0.94},{"x":0.13,"y":0.82},{"x":0.19,"y":1.1},{"x":0.25,"y":1.01},{"x":0.34,"y":1.16},{"x":0.38,"y":0.88},{"x":0.63,"y":1.04},{"x":0.69,"y":1.15},{"x":0.88,"y":1.07},{"x":0.94,"y":0.88},{"x":1.07,"y":1.1},{"x":1.13,"y":0.98},{"x":1.26,"y":1.1},{"x":1.32,"y":1.1},{"x":1.3,"y":0.82},{"x":1.76,"y":0.9},{"x":1.92,"y":0.94},{"x":1.92,"y":0.8},{"x":2.01,"y":1.04}],
"hC":[{"x":2.81,"y":4.98},{"x":2.83,"y":5.05},{"x":2.86,"y":4.85},{"x":2.89,"y":5.11},{"x":2.9,"y":5.16},{"x":2.91,"y":5.08},{"x":2.92,"y":5.02},{"x":2.95,"y":4.91},{"x":2.99,"y":5.1},{"x":3.03,"y":5.11},{"x":3.04,"y":4.81},{"x":3.05,"y":4.85},{"x":3.07,"y":4.88},{"x":3.11,"y":4.93},{"x":3.12,"y":4.83},{"x":3.12,"y":5.19},{"x":3.15,"y":5.06},{"x":3.16,"y":5.02},{"x":3.17,"y":4.98},{"x":3.18,"y":4.99},{"x":3.19,"y":4.89},{"x":3.21,"y":4.88},{"x":3.23,"y":4.81},{"x":3.23,"y":5.06},{"x":3.24,"y":5.06},{"x":3.27,"y":4.88},{"x":3.28,"y":4.86},{"x":3.28,"y":5.02},{"x":3.3,"y":4.88},{"x":3.31,"y":5.12},{"x":3.32,"y":5.04},{"x":3.35,"y":4.96},{"x":3.37,"y":4.89},{"x":3.4,"y":5.14},{"x":3.43,"y":4.81},{"x":3.47,"y":5.12},{"x":3.48,"y":5.05},{"x":3.5,"y":4.86},{"x":3.63,"y":4.89},
{"x":2.84,"y":3.96},{"x":2.86,"y":4.18},{"x":2.88,"y":4.18},{"x":2.89,"y":3.96},{"x":2.94,"y":4.09},{"x":2.94,"y":3.9},{"x":2.95,"y":3.84},{"x":2.96,"y":3.84},{"x":2.99,"y":4.0},{"x":2.99,"y":4.12},{"x":3.0,"y":4.01},{"x":3.02,"y":3.84},{"x":3.03,"y":3.86},{"x":3.05,"y":3.84},{"x":3.08,"y":3.93},{"x":3.08,"y":3.9},{"x":3.1,"y":4.03},{"x":3.11,"y":3.86},{"x":3.13,"y":4.17},{"x":3.16,"y":3.87},{"x":3.18,"y":3.88},{"x":3.19,"y":3.93},{"x":3.25,"y":4.03},{"x":3.25,"y":4.07},{"x":3.27,"y":4.12},{"x":3.27,"y":4.18},{"x":3.32,"y":4.07},{"x":3.33,"y":3.86},{"x":3.35,"y":4.17},{"x":3.35,"y":4.09},{"x":3.36,"y":3.82},{"x":3.38,"y":4.15},{"x":3.41,"y":3.92},{"x":3.41,"y":3.87},{"x":3.44,"y":4.01},{"x":3.46,"y":3.96},{"x":3.52,"y":3.82},{"x":3.58,"y":4.15},{"x":3.58,"y":4.04},{"x":3.59,"y":4.01},
{"x":2.85,"y":2.89},{"x":2.86,"y":3.05},{"x":2.87,"y":2.94},{"x":2.88,"y":2.97},{"x":2.92,"y":3.11},{"x":2.93,"y":3.14},{"x":2.94,"y":3.16},{"x":2.95,"y":2.97},{"x":2.95,"y":2.91},{"x":2.96,"y":3.06},{"x":2.98,"y":3.14},{"x":2.99,"y":2.97},{"x":3.01,"y":3.18},{"x":3.02,"y":2.85},{"x":3.03,"y":2.93},{"x":3.03,"y":3.14},{"x":3.04,"y":2.83},{"x":3.06,"y":2.88},{"x":3.07,"y":3.16},{"x":3.08,"y":3.1},{"x":3.09,"y":2.88},{"x":3.11,"y":2.85},{"x":3.14,"y":2.82},{"x":3.15,"y":2.97},{"x":3.17,"y":2.93},{"x":3.18,"y":2.94},{"x":3.19,"y":2.88},{"x":3.2,"y":2.83},{"x":3.21,"y":2.91},{"x":3.22,"y":3.03},{"x":3.23,"y":2.95},{"x":3.24,"y":3.14},{"x":3.25,"y":2.93},{"x":3.26,"y":2.82},{"x":3.27,"y":3.0},{"x":3.28,"y":2.97},{"x":3.28,"y":3.14},{"x":3.3,"y":3.1},{"x":3.31,"y":2.82},{"x":3.31,"y":3.02},{"x":3.32,"y":3.1},{"x":3.34,"y":3.06},{"x":3.34,"y":3.13},{"x":3.36,"y":3.11},{"x":3.37,"y":2.89},{"x":3.38,"y":2.89},{"x":3.4,"y":2.99},{"x":3.41,"y":3.03},{"x":3.42,"y":3.05},{"x":3.43,"y":3.16},{"x":3.46,"y":2.85},{"x":3.49,"y":2.94},{"x":3.56,"y":3.03},{"x":3.56,"y":2.83},{"x":3.57,"y":2.82},{"x":3.63,"y":3.1},{"x":3.71,"y":3.05},{"x":3.74,"y":3.1},{"x":3.74,"y":3.03},{"x":3.86,"y":2.85},
{"x":2.83,"y":2.01},{"x":2.85,"y":2.12},{"x":2.87,"y":2.13},{"x":2.88,"y":2.06},{"x":2.89,"y":1.98},{"x":2.91,"y":2.13},{"x":2.92,"y":1.84},{"x":2.93,"y":1.79},{"x":2.94,"y":1.89},{"x":2.95,"y":1.95},{"x":2.95,"y":2.02},{"x":2.97,"y":2.09},{"x":2.97,"y":1.84},{"x":2.98,"y":1.88},{"x":3.0,"y":1.9},{"x":3.01,"y":1.9},{"x":3.05,"y":2.0},{"x":3.08,"y":2.0},{"x":3.12,"y":2.2},{"x":3.12,"y":2.09},{"x":3.16,"y":2.2},{"x":3.18,"y":2.13},{"x":3.19,"y":2.0},{"x":3.19,"y":2.13},{"x":3.21,"y":2.18},{"x":3.21,"y":2.12},{"x":3.23,"y":1.96},{"x":3.23,"y":1.9},{"x":3.24,"y":1.88},{"x":3.27,"y":1.9},{"x":3.26,"y":2.09},{"x":3.31,"y":2.12},{"x":3.32,"y":1.92},{"x":3.32,"y":2.01},{"x":3.33,"y":2.09},{"x":3.34,"y":2.03},{"x":3.35,"y":2.03},{"x":3.36,"y":2.0},{"x":3.44,"y":2.03},{"x":3.47,"y":2.06},{"x":3.49,"y":2.2},{"x":3.5,"y":1.82},{"x":3.59,"y":2.17},{"x":3.61,"y":2.01},{"x":3.64,"y":2.15},{"x":3.71,"y":1.88},{"x":3.76,"y":1.86},{"x":3.81,"y":2.17},
{"x":2.68,"y":1.03},{"x":2.76,"y":0.83},{"x":2.76,"y":0.96},{"x":2.78,"y":0.94},{"x":2.81,"y":0.97},{"x":2.82,"y":0.8},{"x":2.82,"y":1.08},{"x":2.83,"y":1.15},{"x":2.85,"y":1.15},{"x":2.86,"y":1.09},{"x":2.88,"y":1.15},{"x":2.88,"y":1.02},{"x":2.89,"y":1.16},{"x":2.9,"y":0.82},{"x":2.91,"y":0.93},{"x":2.92,"y":0.99},{"x":2.92,"y":1.08},{"x":2.93,"y":0.89},{"x":2.94,"y":1.02},{"x":2.94,"y":0.82},{"x":2.95,"y":1.05},{"x":2.95,"y":0.96},{"x":2.96,"y":0.89},{"x":2.96,"y":1.14},{"x":2.97,"y":0.99},{"x":2.98,"y":0.93},{"x":2.98,"y":1.07},{"x":2.99,"y":0.9},{"x":3.0,"y":0.97},{"x":3.01,"y":0.85},{"x":3.02,"y":0.83},{"x":3.04,"y":1.02},{"x":3.05,"y":0.85},{"x":3.06,"y":1.08},{"x":3.07,"y":1.05},{"x":3.08,"y":1.07},{"x":3.09,"y":0.82},{"x":3.11,"y":0.8},{"x":3.1,"y":1.11},{"x":3.11,"y":1.08},{"x":3.13,"y":1.11},{"x":3.13,"y":1.15},{"x":3.14,"y":0.93},{"x":3.15,"y":1.09},{"x":3.15,"y":1.19},{"x":3.19,"y":1.09},{"x":3.19,"y":1.0},{"x":3.21,"y":0.99},{"x":3.22,"y":0.89},{"x":3.24,"y":1.03},{"x":3.24,"y":0.9},{"x":3.25,"y":0.89},{"x":3.27,"y":1.03},{"x":3.28,"y":1.16},{"x":3.28,"y":0.9},{"x":3.3,"y":0.99},{"x":3.36,"y":0.9},{"x":3.39,"y":1.15},{"x":3.4,"y":0.99},{"x":3.43,"y":0.83},{"x":3.48,"y":1.07},{"x":3.49,"y":1.09},{"x":3.58,"y":1.08},{"x":3.58,"y":0.86},{"x":3.61,"y":0.97},{"x":3.7,"y":0.83}],
"hT":[{"x":2.86,"y":4.93},{"x":2.87,"y":4.85},{"x":2.88,"y":4.96},{"x":2.91,"y":4.86},{"x":2.93,"y":5.19},{"x":2.94,"y":5.05},{"x":2.95,"y":4.89},{"x":2.96,"y":5.05},{"x":2.96,"y":4.81},{"x":2.98,"y":5.11},{"x":2.98,"y":4.96},{"x":2.99,"y":4.88},{"x":2.99,"y":5.16},{"x":3.0,"y":5.02},{"x":3.01,"y":5.08},{"x":3.01,"y":4.91},{"x":3.02,"y":5.19},{"x":3.03,"y":4.99},{"x":3.04,"y":5.05},{"x":3.04,"y":4.89},{"x":3.05,"y":5.12},{"x":3.06,"y":5.0},{"x":3.07,"y":5.16},{"x":3.08,"y":4.96},{"x":3.08,"y":4.81},{"x":3.08,"y":5.06},{"x":3.09,"y":5.17},{"x":3.1,"y":4.93},{"x":3.11,"y":5.02},{"x":3.12,"y":4.86},{"x":3.13,"y":5.05},{"x":3.14,"y":5.1},{"x":3.15,"y":5.16},{"x":3.16,"y":5.1},{"x":3.18,"y":5.02},{"x":3.18,"y":5.05},{"x":3.26,"y":5.16},{"x":3.26,"y":5.02},
{"x":2.83,"y":4.03},{"x":2.85,"y":3.98},{"x":2.86,"y":4.06},{"x":2.88,"y":3.98},{"x":2.89,"y":4.09},{"x":2.9,"y":3.93},{"x":2.91,"y":3.87},{"x":2.92,"y":4.01},{"x":2.93,"y":4.09},{"x":2.95,"y":4.15},{"x":2.96,"y":4.0},{"x":2.96,"y":4.18},{"x":2.97,"y":4.07},{"x":2.98,"y":3.87},{"x":2.99,"y":4.09},{"x":3.0,"y":3.9},{"x":3.01,"y":4.18},{"x":3.02,"y":4.0},{"x":3.04,"y":3.93},{"x":3.05,"y":4.06},{"x":3.06,"y":4.15},{"x":3.07,"y":4.0},{"x":3.08,"y":4.18},{"x":3.09,"y":4.03},{"x":3.09,"y":3.95},{"x":3.11,"y":4.09},{"x":3.12,"y":3.98},{"x":3.13,"y":3.86},{"x":3.14,"y":4.06},{"x":3.15,"y":4.11},{"x":3.16,"y":4.01},{"x":3.18,"y":4.13},{"x":3.19,"y":4.15},{"x":3.21,"y":4.13},{"x":3.22,"y":3.96},{"x":3.24,"y":3.81},{"x":3.24,"y":3.9},{"x":3.25,"y":3.86},{"x":3.26,"y":4.0},
{"x":2.92,"y":3.13},{"x":2.92,"y":3.0},{"x":2.92,"y":2.83},{"x":2.94,"y":3.1},{"x":2.95,"y":3.16},{"x":2.96,"y":2.82},{"x":2.97,"y":2.94},{"x":2.98,"y":3.03},{"x":2.99,"y":3.19},{"x":2.99,"y":2.82},{"x":3.0,"y":3.16},{"x":3.01,"y":2.91},{"x":3.02,"y":3.11},{"x":3.04,"y":3.02},{"x":3.04,"y":2.97},{"x":3.05,"y":3.06},{"x":3.06,"y":2.88},{"x":3.07,"y":2.83},{"x":3.08,"y":2.94},{"x":3.08,"y":2.83},{"x":3.1,"y":3.19},{"x":3.1,"y":3.06},{"x":3.11,"y":2.97},{"x":3.11,"y":3.16},{"x":3.12,"y":2.91},{"x":3.12,"y":3.03},{"x":3.13,"y":3.09},{"x":3.13,"y":2.94},{"x":3.15,"y":3.14},{"x":3.16,"y":3.19},{"x":3.21,"y":3.1},
{"x":2.93,"y":2.01},{"x":2.96,"y":2.09},{"x":2.98,"y":2.13},{"x":2.99,"y":2.2},{"x":3.02,"y":2.12},{"x":3.04,"y":2.09},{"x":3.06,"y":2.06},{"x":3.08,"y":2.06},{"x":3.1,"y":2.0},{"x":3.11,"y":1.94},{"x":3.11,"y":2.15},{"x":3.12,"y":1.84},
{"x":2.86,"y":0.86},{"x":2.88,"y":0.93},{"x":2.91,"y":1.08},{"x":2.92,"y":1.13},{"x":2.94,"y":0.86},{"x":2.95,"y":1.14},{"x":2.96,"y":1.02},{"x":2.99,"y":0.83},{"x":2.99,"y":1.07},{"x":3.01,"y":1.16},{"x":3.02,"y":1.19},{"x":3.03,"y":1.08},{"x":3.04,"y":1.19},{"x":3.04,"y":0.9},{"x":3.05,"y":0.85},{"x":3.06,"y":1.14},{"x":3.06,"y":0.8},{"x":3.07,"y":1.05},{"x":3.08,"y":0.85},{"x":3.08,"y":0.89},{"x":3.09,"y":1.19},{"x":3.16,"y":1.19},{"x":3.17,"y":1.16},{"x":3.2,"y":1.08},{"x":3.21,"y":1.05}]
},
"resolve":{"scale":{"color":"independent","shape":"independent","x":"independent","y":"independent"},"legend":{"color":"independent","shape":"independent"}},
"bounds":"flush","columns":2,"spacing":{"row":104,"column":119},
"concat":[
{"width":336,"height":278,"title":{"text":"Body weight [per 1 g]","anchor":"start","frame":"group","fontSize":21,"baseline":"alphabetic","offset":0,"dy":8.5},
"layer":[
{"data":{"values":[{}]},"mark":{"type":"rule","color":"black","strokeDash":[6,4],"strokeWidth":1.6},"encoding":{"x":{"datum":1,"type":"quantitative"}}},
{"data":{"name":"fa"},"transform":[{"filter":"datum.t=='unadjusted'"}],"mark":{"type":"rule","yOffset":-9,"strokeWidth":1.5,"opacity":0.85},"encoding":{"x":{"field":"lo","type":"quantitative","scale":{"type":"log","domain":[0.238,2.83],"nice":false},"axis":{"values":[0.5,0.75,1,1.5,2],"format":".2f","title":"Odds Ratio (95% CI)","titleFontSize":21,"titlePadding":5,"labelFontSize":11.3,"tickSize":5,"labelPadding":2}},"x2":{"field":"hi"},"y":{"field":"c","type":"nominal","scale":{"type":"point","padding":0.6,"domain":["ALL","CAIA","CTRL"]},"axis":{"title":"(a)","titleAngle":0,"titleX":-54,"titleY":24,"titleAlign":"left","titleBaseline":"alphabetic","titleFontSize":21,"titleFontWeight":"bold","labelFontSize":16,"labelExpr":"datum.label=='ALL'?'all':datum.label","tickSize":5,"labelPadding":2}},"color":{"field":"c","type":"nominal","scale":{"domain":["ALL","CAIA","CTRL"],"range":["#951F72","#F5962A","#12A8A6"]}}}},
{"data":{"name":"fa"},"transform":[{"filter":"datum.t=='adjusted'"}],"mark":{"type":"rule","yOffset":9,"strokeWidth":1.5,"opacity":0.85},"encoding":{"x":{"field":"lo","type":"quantitative"},"x2":{"field":"hi"},"y":{"field":"c","type":"nominal"},"color":{"field":"c","type":"nominal"}}},
{"data":{"name":"fa"},"transform":[{"filter":"datum.t=='unadjusted'"}],"mark":{"type":"point","filled":true,"size":150,"opacity":1,"yOffset":-9},"encoding":{"x":{"field":"or","type":"quantitative"},"y":{"field":"c","type":"nominal"},"color":{"field":"c","type":"nominal","legend":{"orient":"none","legendX":26,"legendY":6,"title":null,"symbolType":"circle","symbolSize":90,"labelFontSize":16,"labelOffset":21,"rowPadding":8,"padding":0,"symbolOpacity":1,"symbolStrokeWidth":0}},"shape":{"field":"t","type":"nominal","scale":{"domain":["adjusted","unadjusted"],"range":["square","circle"]},"legend":{"orient":"none","legendX":28,"legendY":88,"title":null,"symbolSize":140,"symbolFillColor":"black","symbolStrokeColor":"black","symbolStrokeWidth":0,"labelFontSize":12,"labelOffset":8,"rowPadding":2,"padding":0}}}},
{"data":{"name":"fa"},"transform":[{"filter":"datum.t=='adjusted'"}],"mark":{"type":"point","filled":true,"size":140,"opacity":1,"yOffset":9},"encoding":{"x":{"field":"or","type":"quantitative"},"y":{"field":"c","type":"nominal"},"color":{"field":"c","type":"nominal","legend":{"orient":"none","legendX":26,"legendY":6,"title":null,"symbolType":"circle","symbolSize":90,"labelFontSize":16,"labelOffset":21,"rowPadding":8,"padding":0,"symbolOpacity":1,"symbolStrokeWidth":0}},"shape":{"field":"t","type":"nominal","legend":{"orient":"none","legendX":28,"legendY":88,"title":null,"symbolSize":140,"symbolFillColor":"black","symbolStrokeColor":"black","symbolStrokeWidth":0,"labelFontSize":12,"labelOffset":8,"rowPadding":2,"padding":0}}}},
{"data":{"name":"fa"},"transform":[{"filter":"datum.t=='unadjusted'"}],"mark":{"type":"text","fontSize":13,"yOffset":-21,"baseline":"middle","opacity":0.9},"encoding":{"x":{"field":"or","type":"quantitative"},"y":{"field":"c","type":"nominal"},"color":{"field":"c","type":"nominal"},"text":{"field":"lab"}}},
{"data":{"name":"fa"},"transform":[{"filter":"datum.t=='adjusted'"}],"mark":{"type":"text","fontSize":13,"yOffset":22,"baseline":"middle","opacity":0.9},"encoding":{"x":{"field":"or","type":"quantitative"},"y":{"field":"c","type":"nominal"},"color":{"field":"c","type":"nominal"},"text":{"field":"lab"}}}
]},
{"width":367,"height":278,"title":{"text":"(e)","anchor":"start","frame":"group","fontSize":21,"fontWeight":"bold","baseline":"alphabetic","offset":0,"dx":-54,"dy":45.5},
"layer":[
{"data":{"values":[{}]},"mark":{"type":"rule","color":"#EBEBEB","strokeWidth":0.5},"encoding":{"y":{"datum":0.5}}},
{"data":{"values":[{}]},"mark":{"type":"rule","color":"#EBEBEB","strokeWidth":0.5},"encoding":{"y":{"datum":1.5}}},
{"data":{"values":[{}]},"mark":{"type":"rule","color":"#EBEBEB","strokeWidth":0.5},"encoding":{"y":{"datum":2.5}}},
{"data":{"values":[{}]},"mark":{"type":"rule","color":"#EBEBEB","strokeWidth":0.5},"encoding":{"y":{"datum":3.5}}},
{"data":{"values":[{}]},"mark":{"type":"rule","color":"#EBEBEB","strokeWidth":0.5},"encoding":{"y":{"datum":4.5}}},
{"data":{"name":"eC"},"mark":{"type":"circle","size":17,"opacity":1},"encoding":{"x":{"field":"x","type":"quantitative","scale":{"domain":[14.23,31.95],"nice":false,"zero":false},"axis":{"values":[15,17.5,20,22.5,25,27.5,30],"labelExpr":"datum.value%5==0?format(datum.value,'d'):''","gridWidth":{"condition":{"test":"datum.value%5==0","value":1},"value":0.5},"tickOpacity":{"condition":{"test":"datum.value%5==0","value":1},"value":0},"title":"Body weight [g]","titleFontSize":21,"titlePadding":5,"labelFontSize":11,"tickSize":4,"labelPadding":1}},"y":{"field":"y","type":"quantitative","scale":{"domain":[0.12,5.29],"nice":false,"zero":false},"axis":{"values":[1,2,3,4,5],"format":"d","title":"Nest score","titleFontSize":21,"titlePadding":8,"labelFontSize":11,"tickSize":5,"labelPadding":2}},"color":{"datum":"CAIA","scale":{"domain":["CAIA","CTRL"],"range":["#F5962A","#12A8A6"]},"legend":{"orient":"none","legendX":19,"legendY":8,"title":null,"symbolType":"circle","symbolSize":80,"labelFontSize":16,"labelOffset":21,"rowPadding":7,"padding":0,"symbolOpacity":1,"symbolStrokeWidth":0}}}},
{"data":{"name":"eT"},"mark":{"type":"circle","size":17,"opacity":1},"encoding":{"x":{"field":"x","type":"quantitative"},"y":{"field":"y","type":"quantitative"},"color":{"datum":"CTRL","legend":{"orient":"none","legendX":19,"legendY":8,"title":null,"symbolType":"circle","symbolSize":80,"labelFontSize":16,"labelOffset":21,"rowPadding":7,"padding":0,"symbolOpacity":1,"symbolStrokeWidth":0}}}},
{"data":{"values":[{}]},"mark":{"type":"text","align":"left","baseline":"middle","fontSize":12,"color":"black"},"encoding":{"x":{"datum":17.56},"y":{"datum":0.595},"text":{"value":"Repeated-measure Spearman"}}},
{"data":{"values":[{}]},"mark":{"type":"text","align":"left","baseline":"middle","fontSize":12,"color":"black"},"encoding":{"x":{"datum":17.56},"y":{"datum":0.372},"text":{"value":"correlation coefficients (95% CI)"}}},
{"data":{"values":[{}]},"mark":{"type":"text","align":"right","baseline":"middle","fontSize":12,"color":"#F5962A","opacity":0.9},"encoding":{"x":{"datum":31.09},"y":{"datum":0.595},"text":{"value":"0.22 (0.12; 0.31)"}}},
{"data":{"values":[{}]},"mark":{"type":"text","align":"right","baseline":"middle","fontSize":12,"color":"#12A8A6","opacity":0.9},"encoding":{"x":{"datum":31.09},"y":{"datum":0.372},"text":{"value":"0.13 (0.00; 0.26)"}}}
]},
{"width":336,"height":278,"title":{"text":"Grip strength [per 10 g]","anchor":"start","frame":"group","fontSize":21,"baseline":"alphabetic","offset":0,"dy":9.5},
"layer":[
{"data":{"values":[{}]},"mark":{"type":"rule","color":"black","strokeDash":[6,4],"strokeWidth":1.6},"encoding":{"x":{"datum":1,"type":"quantitative"}}},
{"data":{"name":"fb"},"transform":[{"filter":"datum.t=='unadjusted'"}],"mark":{"type":"rule","yOffset":-9,"strokeWidth":1.5,"opacity":0.85},"encoding":{"x":{"field":"lo","type":"quantitative","scale":{"type":"log","domain":[0.238,2.83],"nice":false},"axis":{"values":[0.5,0.75,1,1.5,2],"format":".2f","title":"Odds Ratio (95% CI)","titleFontSize":21,"titlePadding":5,"labelFontSize":11.3,"tickSize":5,"labelPadding":2}},"x2":{"field":"hi"},"y":{"field":"c","type":"nominal","scale":{"type":"point","padding":0.6,"domain":["ALL","CAIA","CTRL"]},"axis":{"title":"(b)","titleAngle":0,"titleX":-54,"titleY":24,"titleAlign":"left","titleBaseline":"alphabetic","titleFontSize":21,"titleFontWeight":"bold","labelFontSize":16,"labelExpr":"datum.label=='ALL'?'all':datum.label","tickSize":5,"labelPadding":2}},"color":{"field":"c","type":"nominal","scale":{"domain":["ALL","CAIA","CTRL"],"range":["#951F72","#F5962A","#12A8A6"]},"legend":null}}},
{"data":{"name":"fb"},"transform":[{"filter":"datum.t=='adjusted'"}],"mark":{"type":"rule","yOffset":9,"strokeWidth":1.5,"opacity":0.85},"encoding":{"x":{"field":"lo","type":"quantitative"},"x2":{"field":"hi"},"y":{"field":"c","type":"nominal"},"color":{"field":"c","type":"nominal","legend":null}}},
{"data":{"name":"fb"},"transform":[{"filter":"datum.t=='unadjusted'"}],"mark":{"type":"point","filled":true,"size":150,"opacity":1,"yOffset":-9},"encoding":{"x":{"field":"or","type":"quantitative"},"y":{"field":"c","type":"nominal"},"color":{"field":"c","type":"nominal","legend":null},"shape":{"field":"t","type":"nominal","scale":{"domain":["adjusted","unadjusted"],"range":["square","circle"]},"legend":{"orient":"none","legendX":28,"legendY":88,"title":null,"symbolSize":140,"symbolFillColor":"black","symbolStrokeColor":"black","symbolStrokeWidth":0,"labelFontSize":12,"labelOffset":8,"rowPadding":2,"padding":0}}}},
{"data":{"name":"fb"},"transform":[{"filter":"datum.t=='adjusted'"}],"mark":{"type":"point","filled":true,"size":140,"opacity":1,"yOffset":9},"encoding":{"x":{"field":"or","type":"quantitative"},"y":{"field":"c","type":"nominal"},"color":{"field":"c","type":"nominal","legend":null},"shape":{"field":"t","type":"nominal","legend":{"orient":"none","legendX":28,"legendY":88,"title":null,"symbolSize":140,"symbolFillColor":"black","symbolStrokeColor":"black","symbolStrokeWidth":0,"labelFontSize":12,"labelOffset":8,"rowPadding":2,"padding":0}}}},
{"data":{"name":"fb"},"transform":[{"filter":"datum.t=='unadjusted'"}],"mark":{"type":"text","fontSize":13,"yOffset":-21,"baseline":"middle","opacity":0.9},"encoding":{"x":{"field":"or","type":"quantitative"},"y":{"field":"c","type":"nominal"},"color":{"field":"c","type":"nominal","legend":null},"text":{"field":"lab"}}},
{"data":{"name":"fb"},"transform":[{"filter":"datum.t=='adjusted'"}],"mark":{"type":"text","fontSize":13,"yOffset":22,"baseline":"middle","opacity":0.9},"encoding":{"x":{"field":"or","type":"quantitative"},"y":{"field":"c","type":"nominal"},"color":{"field":"c","type":"nominal","legend":null},"text":{"field":"lab"}}}
]},
{"width":367,"height":278,"title":{"text":"(f)","anchor":"start","frame":"group","fontSize":21,"fontWeight":"bold","baseline":"alphabetic","offset":0,"dx":-54,"dy":45.5},
"layer":[
{"data":{"values":[{}]},"mark":{"type":"rule","color":"#EBEBEB","strokeWidth":0.5},"encoding":{"y":{"datum":0.5}}},
{"data":{"values":[{}]},"mark":{"type":"rule","color":"#EBEBEB","strokeWidth":0.5},"encoding":{"y":{"datum":1.5}}},
{"data":{"values":[{}]},"mark":{"type":"rule","color":"#EBEBEB","strokeWidth":0.5},"encoding":{"y":{"datum":2.5}}},
{"data":{"values":[{}]},"mark":{"type":"rule","color":"#EBEBEB","strokeWidth":0.5},"encoding":{"y":{"datum":3.5}}},
{"data":{"values":[{}]},"mark":{"type":"rule","color":"#EBEBEB","strokeWidth":0.5},"encoding":{"y":{"datum":4.5}}},
{"data":{"name":"gC"},"mark":{"type":"circle","size":17,"opacity":1},"encoding":{"x":{"field":"x","type":"quantitative","scale":{"domain":[0.8,137.3],"nice":false,"zero":false},"axis":{"values":[25,50,75,100,125],"labelExpr":"datum.value%50==0?format(datum.value,'d'):''","gridWidth":{"condition":{"test":"datum.value%50==0","value":1},"value":0.5},"tickOpacity":{"condition":{"test":"datum.value%50==0","value":1},"value":0},"title":"Grip strength [g]","titleFontSize":21,"titlePadding":5,"labelFontSize":11,"tickSize":4,"labelPadding":1}},"y":{"field":"y","type":"quantitative","scale":{"domain":[0.12,5.29],"nice":false,"zero":false},"axis":{"values":[1,2,3,4,5],"format":"d","title":"Nest score","titleFontSize":21,"titlePadding":8,"labelFontSize":11,"tickSize":5,"labelPadding":2}},"color":{"datum":"CAIA","scale":{"domain":["CAIA","CTRL"],"range":["#F5962A","#12A8A6"]},"legend":null}}},
{"data":{"name":"gT"},"mark":{"type":"circle","size":17,"opacity":1},"encoding":{"x":{"field":"x","type":"quantitative"},"y":{"field":"y","type":"quantitative"},"color":{"datum":"CTRL","legend":null}}},
{"data":{"values":[{}]},"mark":{"type":"text","align":"right","baseline":"middle","fontSize":12,"color":"#F5962A","opacity":0.9},"encoding":{"x":{"datum":130.9},"y":{"datum":0.615},"text":{"value":"0.24 (0.14; 0.33)"}}},
{"data":{"values":[{}]},"mark":{"type":"text","align":"right","baseline":"middle","fontSize":12,"color":"#12A8A6","opacity":0.9},"encoding":{"x":{"datum":130.9},"y":{"datum":0.367},"text":{"value":"0.09 (-0.04; 0.22)"}}}
]},
{"width":336,"height":278,"title":{"text":"Clinical arthritis score [per 1 unit]","anchor":"start","frame":"group","fontSize":21,"baseline":"alphabetic","offset":0,"dy":6.5},
"layer":[
{"data":{"values":[{}]},"mark":{"type":"rule","color":"black","strokeDash":[6,4],"strokeWidth":1.6},"encoding":{"x":{"datum":1,"type":"quantitative"}}},
{"data":{"name":"fc"},"transform":[{"filter":"datum.t=='unadjusted'"}],"mark":{"type":"rule","yOffset":-9,"strokeWidth":1.5,"opacity":0.85},"encoding":{"x":{"field":"lo","type":"quantitative","scale":{"type":"log","domain":[0.238,2.83],"nice":false},"axis":{"values":[0.5,0.75,1,1.5,2],"format":".2f","title":"Odds Ratio (95% CI)","titleFontSize":21,"titlePadding":5,"labelFontSize":11.3,"tickSize":5,"labelPadding":2}},"x2":{"field":"hi"},"y":{"field":"c","type":"nominal","scale":{"type":"point","padding":0.6,"domain":["ALL","CAIA","CTRL"]},"axis":{"title":"(c)","titleAngle":0,"titleX":-54,"titleY":24,"titleAlign":"left","titleBaseline":"alphabetic","titleFontSize":21,"titleFontWeight":"bold","labelFontSize":16,"labelExpr":"datum.label=='ALL'?'all':datum.label","tickSize":5,"labelPadding":2}},"color":{"field":"c","type":"nominal","scale":{"domain":["ALL","CAIA","CTRL"],"range":["#951F72","#F5962A","#12A8A6"]},"legend":null}}},
{"data":{"name":"fc"},"transform":[{"filter":"datum.t=='adjusted'"}],"mark":{"type":"rule","yOffset":9,"strokeWidth":1.5,"opacity":0.85},"encoding":{"x":{"field":"lo","type":"quantitative"},"x2":{"field":"hi"},"y":{"field":"c","type":"nominal"},"color":{"field":"c","type":"nominal","legend":null}}},
{"data":{"name":"fc"},"transform":[{"filter":"datum.t=='unadjusted'"}],"mark":{"type":"point","filled":true,"size":150,"opacity":1,"yOffset":-9},"encoding":{"x":{"field":"or","type":"quantitative"},"y":{"field":"c","type":"nominal"},"color":{"field":"c","type":"nominal","legend":null},"shape":{"field":"t","type":"nominal","scale":{"domain":["adjusted","unadjusted"],"range":["square","circle"]},"legend":{"orient":"none","legendX":28,"legendY":88,"title":null,"symbolSize":140,"symbolFillColor":"black","symbolStrokeColor":"black","symbolStrokeWidth":0,"labelFontSize":12,"labelOffset":8,"rowPadding":2,"padding":0}}}},
{"data":{"name":"fc"},"transform":[{"filter":"datum.t=='adjusted'"}],"mark":{"type":"point","filled":true,"size":140,"opacity":1,"yOffset":9},"encoding":{"x":{"field":"or","type":"quantitative"},"y":{"field":"c","type":"nominal"},"color":{"field":"c","type":"nominal","legend":null},"shape":{"field":"t","type":"nominal","legend":{"orient":"none","legendX":28,"legendY":88,"title":null,"symbolSize":140,"symbolFillColor":"black","symbolStrokeColor":"black","symbolStrokeWidth":0,"labelFontSize":12,"labelOffset":8,"rowPadding":2,"padding":0}}}},
{"data":{"name":"fc"},"transform":[{"filter":"datum.t=='unadjusted'"}],"mark":{"type":"text","fontSize":13,"yOffset":-21,"baseline":"middle","opacity":0.9},"encoding":{"x":{"field":"or","type":"quantitative"},"y":{"field":"c","type":"nominal"},"color":{"field":"c","type":"nominal","legend":null},"text":{"field":"lab"}}},
{"data":{"name":"fc"},"transform":[{"filter":"datum.t=='adjusted'"}],"mark":{"type":"text","fontSize":13,"yOffset":22,"baseline":"middle","opacity":0.9},"encoding":{"x":{"field":"or","type":"quantitative"},"y":{"field":"c","type":"nominal"},"color":{"field":"c","type":"nominal","legend":null},"text":{"field":"lab"}}}
]},
{"width":367,"height":278,"title":{"text":"(g)","anchor":"start","frame":"group","fontSize":21,"fontWeight":"bold","baseline":"alphabetic","offset":0,"dx":-54,"dy":45.5},
"layer":[
{"data":{"values":[{}]},"mark":{"type":"rule","color":"#EBEBEB","strokeWidth":0.5},"encoding":{"y":{"datum":0.5}}},
{"data":{"values":[{}]},"mark":{"type":"rule","color":"#EBEBEB","strokeWidth":0.5},"encoding":{"y":{"datum":1.5}}},
{"data":{"values":[{}]},"mark":{"type":"rule","color":"#EBEBEB","strokeWidth":0.5},"encoding":{"y":{"datum":2.5}}},
{"data":{"values":[{}]},"mark":{"type":"rule","color":"#EBEBEB","strokeWidth":0.5},"encoding":{"y":{"datum":3.5}}},
{"data":{"values":[{}]},"mark":{"type":"rule","color":"#EBEBEB","strokeWidth":0.5},"encoding":{"y":{"datum":4.5}}},
{"data":{"name":"cC"},"mark":{"type":"circle","size":17,"opacity":1},"encoding":{"x":{"field":"x","type":"quantitative","scale":{"domain":[-1.0,12.73],"nice":false,"zero":false},"axis":{"values":[0,2,4,6,8,10,12],"labelExpr":"datum.value%4==0?format(datum.value,'d'):''","gridWidth":{"condition":{"test":"datum.value%4==0","value":1},"value":0.5},"tickOpacity":{"condition":{"test":"datum.value%4==0","value":1},"value":0},"title":"Clinical arthritis score [unit]","titleFontSize":21,"titlePadding":5,"labelFontSize":11,"tickSize":4,"labelPadding":1}},"y":{"field":"y","type":"quantitative","scale":{"domain":[0.12,5.29],"nice":false,"zero":false},"axis":{"values":[1,2,3,4,5],"format":"d","title":"Nest score","titleFontSize":21,"titlePadding":8,"labelFontSize":11,"tickSize":5,"labelPadding":2}},"color":{"datum":"CAIA","scale":{"domain":["CAIA","CTRL"],"range":["#F5962A","#12A8A6"]},"legend":null}}},
{"data":{"name":"cT"},"mark":{"type":"circle","size":17,"opacity":1},"encoding":{"x":{"field":"x","type":"quantitative"},"y":{"field":"y","type":"quantitative"},"color":{"datum":"CTRL","legend":null}}},
{"data":{"values":[{}]},"mark":{"type":"text","align":"right","baseline":"middle","fontSize":12,"color":"#F5962A","opacity":0.9},"encoding":{"x":{"datum":12.13},"y":{"datum":0.616},"text":{"value":"0.17 (0.07; 0.27)"}}},
{"data":{"values":[{}]},"mark":{"type":"text","align":"right","baseline":"middle","fontSize":12,"color":"#12A8A6","opacity":0.9},"encoding":{"x":{"datum":12.13},"y":{"datum":0.366},"text":{"value":"-0.08 (-0.21; 0.05)"}}}
]},
{"width":336,"height":278,"title":{"text":"Ankle size [per 0.1 mm]","anchor":"start","frame":"group","fontSize":21,"baseline":"alphabetic","offset":0,"dy":7.5},
"layer":[
{"data":{"values":[{}]},"mark":{"type":"rule","color":"black","strokeDash":[6,4],"strokeWidth":1.6},"encoding":{"x":{"datum":1,"type":"quantitative"}}},
{"data":{"name":"fd"},"transform":[{"filter":"datum.t=='unadjusted'"}],"mark":{"type":"rule","yOffset":-9,"strokeWidth":1.5,"opacity":0.85},"encoding":{"x":{"field":"lo","type":"quantitative","scale":{"type":"log","domain":[0.238,2.83],"nice":false},"axis":{"values":[0.5,0.75,1,1.5,2],"format":".2f","title":"Odds Ratio (95% CI)","titleFontSize":21,"titlePadding":5,"labelFontSize":11.3,"tickSize":5,"labelPadding":2}},"x2":{"field":"hi"},"y":{"field":"c","type":"nominal","scale":{"type":"point","padding":0.6,"domain":["ALL","CAIA","CTRL"]},"axis":{"title":"(d)","titleAngle":0,"titleX":-54,"titleY":24,"titleAlign":"left","titleBaseline":"alphabetic","titleFontSize":21,"titleFontWeight":"bold","labelFontSize":16,"labelExpr":"datum.label=='ALL'?'all':datum.label","tickSize":5,"labelPadding":2}},"color":{"field":"c","type":"nominal","scale":{"domain":["ALL","CAIA","CTRL"],"range":["#951F72","#F5962A","#12A8A6"]},"legend":null}}},
{"data":{"name":"fd"},"transform":[{"filter":"datum.t=='adjusted'"}],"mark":{"type":"rule","yOffset":9,"strokeWidth":1.5,"opacity":0.85},"encoding":{"x":{"field":"lo","type":"quantitative"},"x2":{"field":"hi"},"y":{"field":"c","type":"nominal"},"color":{"field":"c","type":"nominal","legend":null}}},
{"data":{"name":"fd"},"transform":[{"filter":"datum.t=='unadjusted'"}],"mark":{"type":"point","filled":true,"size":150,"opacity":1,"yOffset":-9},"encoding":{"x":{"field":"or","type":"quantitative"},"y":{"field":"c","type":"nominal"},"color":{"field":"c","type":"nominal","legend":null},"shape":{"field":"t","type":"nominal","scale":{"domain":["adjusted","unadjusted"],"range":["square","circle"]},"legend":{"orient":"none","legendX":28,"legendY":88,"title":null,"symbolSize":140,"symbolFillColor":"black","symbolStrokeColor":"black","symbolStrokeWidth":0,"labelFontSize":12,"labelOffset":8,"rowPadding":2,"padding":0}}}},
{"data":{"name":"fd"},"transform":[{"filter":"datum.t=='adjusted'"}],"mark":{"type":"point","filled":true,"size":140,"opacity":1,"yOffset":9},"encoding":{"x":{"field":"or","type":"quantitative"},"y":{"field":"c","type":"nominal"},"color":{"field":"c","type":"nominal","legend":null},"shape":{"field":"t","type":"nominal","legend":{"orient":"none","legendX":28,"legendY":88,"title":null,"symbolSize":140,"symbolFillColor":"black","symbolStrokeColor":"black","symbolStrokeWidth":0,"labelFontSize":12,"labelOffset":8,"rowPadding":2,"padding":0}}}},
{"data":{"name":"fd"},"transform":[{"filter":"datum.t=='unadjusted'"}],"mark":{"type":"text","fontSize":13,"yOffset":-21,"baseline":"middle","opacity":0.9},"encoding":{"x":{"field":"or","type":"quantitative"},"y":{"field":"c","type":"nominal"},"color":{"field":"c","type":"nominal","legend":null},"text":{"field":"lab"}}},
{"data":{"name":"fd"},"transform":[{"filter":"datum.t=='adjusted'"}],"mark":{"type":"text","fontSize":13,"yOffset":22,"baseline":"middle","opacity":0.9},"encoding":{"x":{"field":"or","type":"quantitative"},"y":{"field":"c","type":"nominal"},"color":{"field":"c","type":"nominal","legend":null},"text":{"field":"lab"}}}
]},
{"width":367,"height":278,"title":{"text":"(h)","anchor":"start","frame":"group","fontSize":21,"fontWeight":"bold","baseline":"alphabetic","offset":0,"dx":-54,"dy":45.5},
"layer":[
{"data":{"values":[{}]},"mark":{"type":"rule","color":"#EBEBEB","strokeWidth":0.5},"encoding":{"y":{"datum":0.5}}},
{"data":{"values":[{}]},"mark":{"type":"rule","color":"#EBEBEB","strokeWidth":0.5},"encoding":{"y":{"datum":1.5}}},
{"data":{"values":[{}]},"mark":{"type":"rule","color":"#EBEBEB","strokeWidth":0.5},"encoding":{"y":{"datum":2.5}}},
{"data":{"values":[{}]},"mark":{"type":"rule","color":"#EBEBEB","strokeWidth":0.5},"encoding":{"y":{"datum":3.5}}},
{"data":{"values":[{}]},"mark":{"type":"rule","color":"#EBEBEB","strokeWidth":0.5},"encoding":{"y":{"datum":4.5}}},
{"data":{"name":"hC"},"mark":{"type":"circle","size":17,"opacity":1},"encoding":{"x":{"field":"x","type":"quantitative","scale":{"domain":[2.629,3.921],"nice":false,"zero":false},"axis":{"values":[2.7,2.85,3.0,3.15,3.3,3.45,3.6,3.75,3.9],"labelExpr":"indexof([2.7,3,3.3,3.6,3.9],datum.value)>=0?format(datum.value,'.1f'):''","gridWidth":{"condition":{"test":"indexof([2.7,3,3.3,3.6,3.9],datum.value)>=0","value":1},"value":0.5},"tickOpacity":{"condition":{"test":"indexof([2.7,3,3.3,3.6,3.9],datum.value)>=0","value":1},"value":0},"title":"Ankle size [mm]","titleFontSize":21,"titlePadding":5,"labelFontSize":11,"tickSize":4,"labelPadding":1}},"y":{"field":"y","type":"quantitative","scale":{"domain":[0.12,5.29],"nice":false,"zero":false},"axis":{"values":[1,2,3,4,5],"format":"d","title":"Nest score","titleFontSize":21,"titlePadding":8,"labelFontSize":11,"tickSize":5,"labelPadding":2}},"color":{"datum":"CAIA","scale":{"domain":["CAIA","CTRL"],"range":["#F5962A","#12A8A6"]},"legend":null}}},
{"data":{"name":"hT"},"mark":{"type":"circle","size":17,"opacity":1},"encoding":{"x":{"field":"x","type":"quantitative"},"y":{"field":"y","type":"quantitative"},"color":{"datum":"CTRL","legend":null}}},
{"data":{"values":[{}]},"mark":{"type":"text","align":"right","baseline":"middle","fontSize":12,"color":"#F5962A","opacity":0.9},"encoding":{"x":{"datum":3.849},"y":{"datum":0.635},"text":{"value":"0.19 (0.09; 0.28)"}}},
{"data":{"values":[{}]},"mark":{"type":"text","align":"right","baseline":"middle","fontSize":12,"color":"#12A8A6","opacity":0.9},"encoding":{"x":{"datum":3.849},"y":{"datum":0.386},"text":{"value":"0.15 (0.03; 0.28)"}}}
]}
]
}
